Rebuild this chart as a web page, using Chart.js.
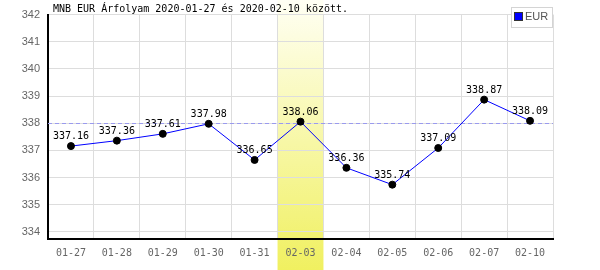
<!DOCTYPE html>
<html>
<head>
<meta charset="utf-8">
<script src="https://cdn.jsdelivr.net/npm/chart.js@4/dist/chart.umd.min.js"></script>
<style>
  html, body { margin: 0; padding: 0; background: #fff; }
  #wrap { width: 600px; height: 270px; position: relative; }
</style>
</head>
<body>
<div id="wrap"><canvas id="rateChart"></canvas></div>
<script>
// chart data
const dates = ['01-27','01-28','01-29','01-30','01-31','02-03','02-04','02-05','02-06','02-07','02-10'];
const eurRates = [337.16, 337.36, 337.61, 337.98, 336.65, 338.06, 336.36, 335.74, 337.09, 338.87, 338.09];
const yTicks = [334, 335, 336, 337, 338, 339, 340, 341, 342];
const refRate = 338;
const highlightIndex = 5;
const titleText = 'MNB EUR Árfolyam 2020-01-27 és 2020-02-10 között.';
const seriesName = 'EUR';

const mono = '"DejaVu Sans Mono", "Liberation Mono", monospace';
const sans = '"Liberation Sans", Arial, sans-serif';

// yellow column behind the highlighted day
const highlightPlugin = {
    id: 'highlight',
    beforeDraw(chart) {
        const x = chart.scales.x;
        const ctx = chart.ctx;
        const step = (x.right - x.left) / dates.length;
        const left = x.left + step * highlightIndex;
        const grad = ctx.createLinearGradient(0, 0, 0, chart.height);
        grad.addColorStop(0, '#fffff4');
        grad.addColorStop(1, '#f0f060');
        ctx.save();
        ctx.fillStyle = grad;
        ctx.fillRect(left, 0, step, chart.height);
        ctx.restore();
    }
};

// dashed reference line, title, legend box and value labels
const overlayPlugin = {
    id: 'overlay',
    beforeDatasetsDraw(chart) {
        const ctx = chart.ctx;
        const y = chart.scales.y.getPixelForValue(refRate);
        ctx.save();
        ctx.strokeStyle = '#9a9aee';
        ctx.lineWidth = 1;
        ctx.setLineDash([4, 3]);
        ctx.beginPath();
        ctx.moveTo(chart.chartArea.left, Math.round(y) + 0.5);
        ctx.lineTo(chart.chartArea.right, Math.round(y) + 0.5);
        ctx.stroke();
        ctx.restore();
    },
    afterDraw(chart) {
        const ctx = chart.ctx;
        ctx.save();
        // title
        ctx.fillStyle = '#000';
        ctx.font = '10px ' + mono;
        ctx.textAlign = 'left';
        ctx.textBaseline = 'alphabetic';
        ctx.fillText(titleText, 53, 12);

        // legend
        ctx.fillStyle = '#fff';
        ctx.fillRect(511, 7, 41, 20);
        ctx.strokeStyle = '#d4d4d4';
        ctx.lineWidth = 1;
        ctx.strokeRect(511.5, 7.5, 41, 20);
        ctx.fillStyle = '#0000ff';
        ctx.fillRect(515, 13, 7, 7);
        ctx.strokeStyle = '#333';
        ctx.strokeRect(514.5, 12.5, 8, 8);
        ctx.fillStyle = '#555';
        ctx.font = '11px ' + sans;
        ctx.textBaseline = 'middle';
        ctx.fillText(seriesName, 525, 17);

        // value labels
        const meta = chart.getDatasetMeta(0);
        ctx.fillStyle = '#000';
        ctx.font = '10px ' + mono;
        ctx.textAlign = 'center';
        ctx.textBaseline = 'alphabetic';
        meta.data.forEach((pt, i) => {
            ctx.fillText(eurRates[i].toFixed(2), pt.x, pt.y - 7);
        });
        ctx.restore();
    }
};

const ctx = document.getElementById('rateChart').getContext('2d');
new Chart(ctx, {
    type: 'line',
    data: {
        labels: dates,
        datasets: [{
            label: seriesName,
            data: eurRates,
            borderColor: '#0000ff',
            borderWidth: 1,
            backgroundColor: '#000',
            pointBackgroundColor: '#000',
            pointBorderColor: '#000',
            pointRadius: 3.5,
            tension: 0,
            fill: false
        }]
    },
    options: {
        responsive: true,
        maintainAspectRatio: false,
        animation: false,
        layout: { padding: { top: 14, right: 47, left: 0, bottom: 0 } },
        plugins: {
            legend: { display: false },
            tooltip: { enabled: false }
        },
        scales: {
            x: {
                offset: true,
                grid: { color: '#dddddd', offset: true, drawTicks: false },
                border: { color: '#000', width: 2 },
                ticks: { color: '#666', font: { family: mono, size: 10 }, padding: 8, maxRotation: 0, autoSkip: false },
                afterFit(scale) { scale.height = 31; }
            },
            y: {
                min: 333.74,
                max: 342,
                afterBuildTicks(scale) { scale.ticks = yTicks.map(v => ({ value: v })); },
                grid: { color: '#dddddd', drawTicks: false },
                border: { color: '#000', width: 2 },
                ticks: { color: '#666', font: { family: sans, size: 11 }, padding: 8 },
                afterFit(scale) { scale.width = 48; }
            }
        }
    },
    plugins: [highlightPlugin, overlayPlugin]
});
</script>
</body>
</html>
